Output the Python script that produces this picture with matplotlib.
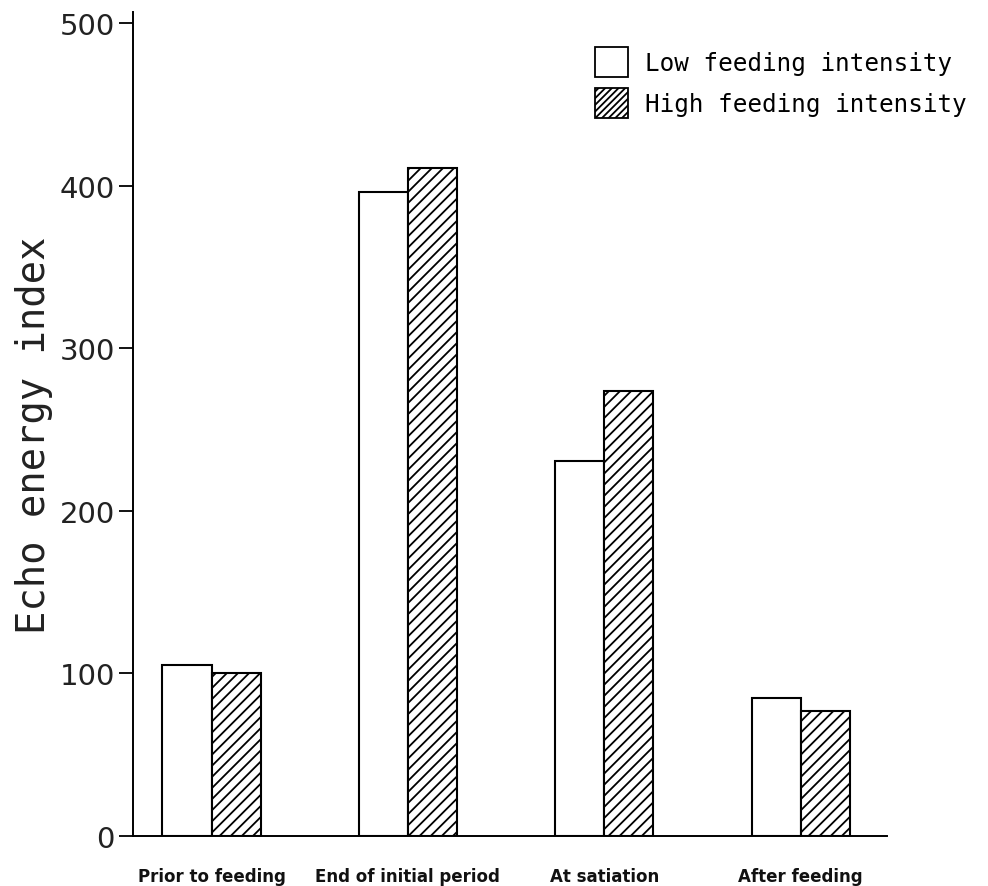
import numpy as np
import matplotlib
matplotlib.use("Agg")
import matplotlib.pyplot as plt
from matplotlib.patches import Patch

categories = ["Prior to feeding", "End of initial period", "At satiation", "After feeding"]
low_intensity = [105, 396, 231, 85]
high_intensity = [100, 411, 274, 77]
series_names = ["Low feeding intensity", "High feeding intensity"]
y_ticks = [0, 100, 200, 300, 400, 500]

plt.rcParams["hatch.linewidth"] = 1.3
MONO = "DejaVu Sans Mono"

fig = plt.figure(figsize=(9.88, 8.87), dpi=100)
ax = fig.add_axes([0.1346, 0.0564, 0.7632, 0.929])

x = np.arange(len(categories))
w = 0.25
ax.bar(x - w / 2, low_intensity, w, facecolor="white", edgecolor="black", linewidth=1.5)
ax.bar(x + w / 2, high_intensity, w, facecolor="white", edgecolor="black",
       linewidth=1.5, hatch="///")

ax.set_xlim(-0.40, 3.44)
ax.set_ylim(0, 507)
ax.set_yticks(y_ticks)
ax.set_yticklabels([str(v) for v in y_ticks], fontsize=21, color="#222222")
ax.set_xticks(x)
ax.set_xticklabels(categories, fontsize=12, fontweight="bold", color="#111111")
ax.tick_params(axis="x", length=0, pad=22)
ax.tick_params(axis="y", direction="out", length=10, width=1.3, pad=3)

for side in ("top", "right"):
    ax.spines[side].set_visible(False)
for side in ("left", "bottom"):
    ax.spines[side].set_linewidth(1.4)

ax.set_ylabel("Echo energy index", fontsize=28, family=MONO, color="#222222")
ax.yaxis.set_label_coords(-0.106, 0.487)

handles = [Patch(facecolor="white", edgecolor="black", linewidth=1.3),
           Patch(facecolor="white", edgecolor="black", linewidth=1.3, hatch="/////")]
ax.legend(handles, series_names, loc="upper left", bbox_to_anchor=(0.613, 0.958),
          frameon=False, borderpad=0, borderaxespad=0, prop={"family": MONO, "size": 17.5},
          handlelength=1.35, handleheight=1.55, handletextpad=0.7, labelspacing=0.45)

fig.savefig("out.png", dpi=100)
